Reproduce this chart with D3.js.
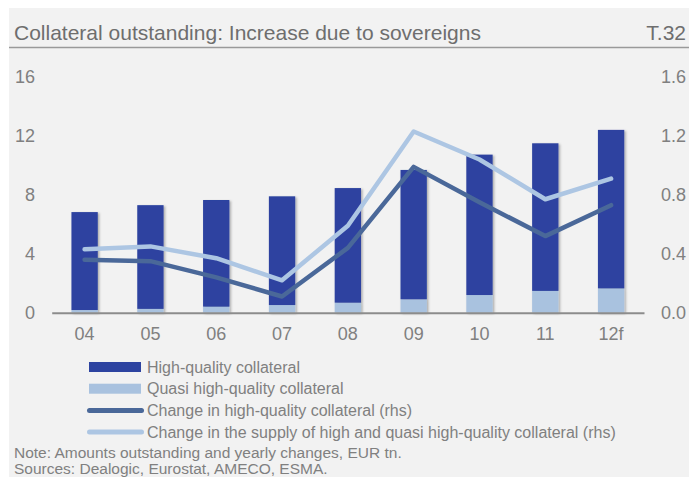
<!DOCTYPE html>
<html>
<head>
<meta charset="utf-8">
<script src="https://cdn.jsdelivr.net/npm/d3@7"></script>
<style>
  html, body { margin: 0; padding: 0; background: #ffffff; }
  svg { display: block; }
  text { font-family: "Liberation Sans", Arial, sans-serif; fill: #777777; }
</style>
</head>
<body>
<svg id="chart" width="689" height="477"></svg>
<script>
// Years on the category axis
const categories = ["04", "05", "06", "07", "08", "09", "10", "11", "12f"];
// Amounts outstanding, EUR tn (left axis)
const quasiHighQuality = [0.18, 0.26, 0.41, 0.52, 0.68, 0.91, 1.2, 1.48, 1.65];
const highQuality = [6.65, 7.04, 7.24, 7.38, 7.78, 8.78, 9.53, 10.02, 10.76];
// Yearly changes, EUR tn (right axis)
const changeHighQuality = [0.36, 0.35, 0.24, 0.11, 0.44, 0.99, 0.75, 0.52, 0.73];
const changeSupply = [0.43, 0.45, 0.37, 0.22, 0.59, 1.23, 1.04, 0.77, 0.91];
// Axis ticks
const leftTicks = [0, 4, 8, 12, 16];
const rightTicks = [0, 0.4, 0.8, 1.2, 1.6];

const colors = {
  hq: "#2d43a0",
  quasi: "#a9c2df",
  lineHq: "#4a6899",
  lineSupply: "#adc6e3"
};

const svg = d3.select("#chart");

// defs: soft shadow under the bars
const defs = svg.append("defs");
const shadow = defs.append("filter").attr("id", "barShadow")
  .attr("x", "-20%").attr("y", "-5%").attr("width", "150%").attr("height", "115%");
shadow.append("feDropShadow")
  .attr("dx", 1.5).attr("dy", 1).attr("stdDeviation", 1.2)
  .attr("flood-color", "#000").attr("flood-opacity", 0.3);

// panel background
svg.append("rect").attr("x", 9).attr("y", 8).attr("width", 680).attr("height", 469)
  .attr("fill", "#f2f2f2");

// title row
svg.append("text").attr("x", 14).attr("y", 40)
  .style("font-size", "21px").style("fill", "#6e6e6e")
  .text("Collateral outstanding: Increase due to sovereigns");
svg.append("text").attr("x", 686).attr("y", 40).attr("text-anchor", "end")
  .style("font-size", "21px").style("fill", "#6e6e6e")
  .text("T.32");
svg.append("line").attr("x1", 9).attr("x2", 689).attr("y1", 47.5).attr("y2", 47.5)
  .attr("stroke", "#9a9a9a").attr("stroke-width", 1.5);

// scales
const x = d3.scaleBand().domain(categories).range([51.7, 644])
  .paddingInner(0.6).paddingOuter(0.3);
const yL = d3.scaleLinear().domain([0, 16]).range([312.7, 77]);
const yR = d3.scaleLinear().domain([0, 1.6]).range([312.7, 77]);

// stacked bars
const rows = categories.map((c, i) => ({ cat: c, quasi: quasiHighQuality[i], hq: highQuality[i] }));
const stack = d3.stack().keys(["quasi", "hq"])(rows);
const barG = svg.append("g").attr("filter", "url(#barShadow)");
barG.selectAll("g.layer").data(stack).join("g")
  .attr("class", "layer")
  .attr("fill", d => d.key === "hq" ? colors.hq : colors.quasi)
  .selectAll("rect").data(d => d).join("rect")
  .attr("x", d => x(d.data.cat))
  .attr("width", x.bandwidth())
  .attr("y", d => yL(d[1]))
  .attr("height", d => yL(d[0]) - yL(d[1]));

// left axis labels
const leftAxis = d3.axisLeft(yL).tickValues(leftTicks).tickSize(0).tickPadding(0)
  .tickFormat(d3.format("d"));
svg.append("g").attr("transform", "translate(35,0)").call(leftAxis)
  .call(g => g.select(".domain").remove())
  .selectAll("text").style("font-size", "18px").style("fill", "#808080")
  .attr("font-family", null);

// right axis labels
const rightAxis = d3.axisRight(yR).tickValues(rightTicks).tickSize(0).tickPadding(0)
  .tickFormat(d3.format(".1f"));
svg.append("g").attr("transform", "translate(661,0)").call(rightAxis)
  .call(g => g.select(".domain").remove())
  .selectAll("text").style("font-size", "18px").style("fill", "#808080")
  .attr("font-family", null);

// category axis
const xAxis = d3.axisBottom(x).tickSize(0).tickPadding(15);
svg.append("g").attr("transform", `translate(0,${yL(0)})`).call(xAxis)
  .call(g => g.select(".domain").attr("stroke", "#8c8c8c").attr("stroke-width", 2))
  .selectAll("text").style("font-size", "18px").style("fill", "#808080")
  .attr("font-family", null);

// lines on the right axis
const lineGen = d3.line()
  .x((d, i) => x(categories[i]) + x.bandwidth() / 2)
  .y(d => yR(d));
svg.append("path").datum(changeHighQuality)
  .attr("d", lineGen).attr("fill", "none")
  .attr("stroke", colors.lineHq).attr("stroke-width", 4.5)
  .attr("stroke-linecap", "round").attr("stroke-linejoin", "round");
svg.append("path").datum(changeSupply)
  .attr("d", lineGen).attr("fill", "none")
  .attr("stroke", colors.lineSupply).attr("stroke-width", 4.5)
  .attr("stroke-linecap", "round").attr("stroke-linejoin", "round");

// legend
const legendItems = [
  { label: "High-quality collateral", type: "bar", color: colors.hq },
  { label: "Quasi high-quality collateral", type: "bar", color: colors.quasi },
  { label: "Change in high-quality collateral (rhs)", type: "line", color: colors.lineHq },
  { label: "Change in the supply of high and quasi high-quality collateral (rhs)", type: "line", color: colors.lineSupply }
];
const legend = svg.append("g");
legendItems.forEach((item, i) => {
  const cy = 367 + i * 21.7;
  if (item.type === "bar") {
    legend.append("rect").attr("x", 89).attr("y", cy - 5).attr("width", 52).attr("height", 10)
      .attr("fill", item.color);
  } else {
    legend.append("line").attr("x1", 89.5).attr("x2", 141.5).attr("y1", cy).attr("y2", cy)
      .attr("stroke", item.color).attr("stroke-width", 5).attr("stroke-linecap", "round");
  }
  legend.append("text").attr("x", 147).attr("y", cy + 5.5)
    .style("font-size", "16px").style("fill", "#808080")
    .text(item.label);
});

// notes
svg.append("text").attr("x", 14).attr("y", 457.5).style("font-size", "15.5px").style("fill", "#808080")
  .text("Note: Amounts outstanding and yearly changes, EUR tn.");
svg.append("text").attr("x", 14).attr("y", 474).style("font-size", "15.5px").style("fill", "#808080")
  .text("Sources: Dealogic, Eurostat, AMECO, ESMA.");
</script>
</body>
</html>
